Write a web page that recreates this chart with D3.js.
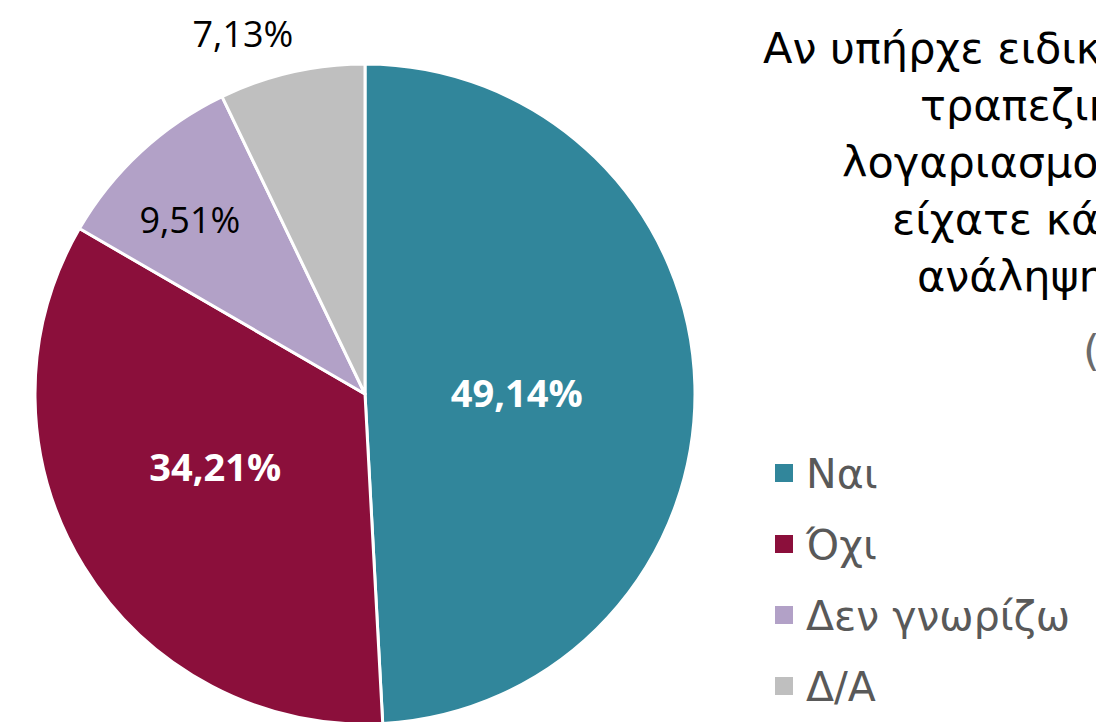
<!DOCTYPE html>
<html>
<head>
<meta charset="utf-8">
<script src="https://cdn.jsdelivr.net/npm/d3@7"></script>
<style>
    html, body { margin: 0; padding: 0; background: #fff; overflow: hidden; }
</style>
</head>
<body>
<div id="chart"></div>
<script>
// data
const categories = ['Ναι', 'Όχι', 'Δεν γνωρίζω', 'Δ/Α'];
const values = [49.14, 34.21, 9.51, 7.13];
const colors = ['#31869b', '#8b0f3b', '#b2a1c7', '#bfbfbf'];
const titleLines = ['Αν υπήρχε ειδικός τύπος', 'τραπεζικού', 'λογαριασμού, θα', 'είχατε κάρτα', 'ανάληψης;', '(%)'];

const width = 1096;
const height = 722;
const cx = 365, cy = 394, radius = 330;

const svg = d3.select("#chart")
    .append("svg")
    .attr("width", width)
    .attr("height", height);

const pie = d3.pie().sort(null).value(d => d);
const arcs = pie(values);

const arc = d3.arc().innerRadius(0).outerRadius(radius);

const g = svg.append("g")
    .attr("transform", `translate(${cx},${cy})`);

g.selectAll("path")
    .data(arcs)
    .enter()
    .append("path")
    .attr("d", arc)
    .attr("fill", (d, i) => colors[i])
    .attr("stroke", "white")
    .attr("stroke-width", 3)
    .attr("stroke-linejoin", "round");

// label placement (fraction of radius + small nudge), inside labels bold white
const labelK = [0.46, 0.5, 0.75, 1.12];
const labelNudge = [[0, 3], [-9, -13], [-7, 8], [-40, 0]];
const inside = [true, true, false, false];

g.selectAll(".pct")
    .data(arcs)
    .enter()
    .append("text")
    .attr("class", "pct")
    .attr("transform", (d, i) => {
        const c = d3.arc().innerRadius(radius * labelK[i]).outerRadius(radius * labelK[i]).centroid(d);
        return `translate(${c[0] + labelNudge[i][0]},${c[1] + labelNudge[i][1]})`;
    })
    .attr("text-anchor", "middle")
    .attr("dy", "0.36em")
    .attr("fill", (d, i) => inside[i] ? "white" : "black")
    .style("font-family", "'Open Sans', sans-serif")
    .style("font-weight", (d, i) => inside[i] ? "bold" : "normal")
    .style("font-size", (d, i) => inside[i] ? "38px" : "36px")
    .text(d => d3.format(".2f")(d.data).replace(".", ",") + "%");

// title (cut at the right edge, like the original)
const titleX = [763, 920, 842, 892, 917, 1083];
const titleY = [63, 120, 177, 234, 291, 366];

svg.selectAll(".title")
    .data(titleLines)
    .enter()
    .append("text")
    .attr("class", "title")
    .attr("x", (d, i) => titleX[i])
    .attr("y", (d, i) => titleY[i])
    .attr("fill", (d, i) => i === titleLines.length - 1 ? "#6b6b6b" : "black")
    .style("font-family", "'DejaVu Sans', sans-serif")
    .style("font-size", "43px")
    .text(d => d);

// legend
const legend = svg.selectAll(".legend")
    .data(categories)
    .enter()
    .append("g")
    .attr("class", "legend")
    .attr("transform", (d, i) => `translate(775,${473 + i * 71})`);

legend.append("rect")
    .attr("x", 0)
    .attr("y", -9)
    .attr("width", 18)
    .attr("height", 18)
    .attr("fill", (d, i) => colors[i]);

legend.append("text")
    .attr("x", 31)
    .attr("y", 15)
    .attr("fill", "#595959")
    .style("font-family", "'DejaVu Sans', sans-serif")
    .style("font-size", "41px")
    .text(d => d);
</script>
</body>
</html>
